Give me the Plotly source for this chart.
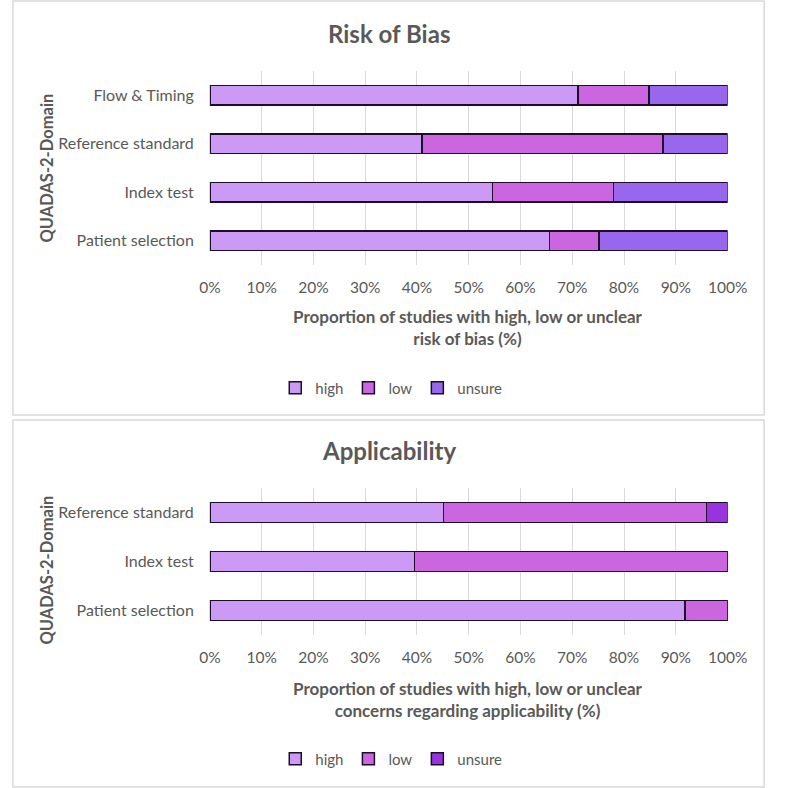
import plotly.graph_objects as go

# ---- data ----
rob_domains = ["Patient selection", "Index test", "Reference standard", "Flow & Timing"]
rob_high = [65.6, 54.6, 41.0, 71.1]
rob_low = [9.6, 23.4, 46.5, 13.7]
rob_unsure = [24.8, 22.0, 12.5, 15.2]

app_domains = ["Patient selection", "Index test", "Reference standard"]
app_high = [91.8, 39.5, 45.1]
app_low = [8.2, 60.5, 50.8]
app_unsure = [0.0, 0.0, 4.1]

series_names = ["high", "low", "unsure"]
x_ticks = [0, 10, 20, 30, 40, 50, 60, 70, 80, 90, 100]
x_tick_labels = [f"{v}%" for v in x_ticks]

# ---- styles ----
FONT = "Lato, 'Open Sans', sans-serif"
GRAY = "#595959"
C_HIGH = "#CC99F5"
C_LOW = "#CC66E0"
C_UNS_TOP = "#9966EE"
C_UNS_BOT = "#9933DD"
EDGE = "#1a0f26"

fig = go.Figure()

top_colors = [C_HIGH, C_LOW, C_UNS_TOP]
for name, vals, col in zip(series_names, [rob_high, rob_low, rob_unsure], top_colors):
    fig.add_trace(go.Bar(
        y=rob_domains, x=vals, name=name, orientation="h",
        marker=dict(color=col, line=dict(color=EDGE, width=1.5)),
        xaxis="x", yaxis="y", legend="legend", hoverinfo="x+y+name",
    ))

bot_colors = [C_HIGH, C_LOW, C_UNS_BOT]
for name, vals, col in zip(series_names, [app_high, app_low, app_unsure], bot_colors):
    fig.add_trace(go.Bar(
        y=app_domains, x=vals, name=name, orientation="h",
        marker=dict(color=col, line=dict(color=EDGE, width=1.5)),
        xaxis="x2", yaxis="y2", legend="legend2", hoverinfo="x+y+name",
    ))

W, H = 787, 788
def py(px):
    return 1 - px / H

xdom = [207 / W, 746 / W]
xaxis_common = dict(
    range=[0, 100], tickvals=x_ticks, ticktext=x_tick_labels,
    showgrid=True, gridcolor="#d9d9d9", gridwidth=1, zeroline=False,
    showline=False, ticks="", ticklabelstandoff=11,
    tickfont=dict(family=FONT, size=15.5, color=GRAY), fixedrange=True,
)
yaxis_common = dict(
    showgrid=False, zeroline=False, showline=False, ticks="",
    ticklabelstandoff=15, tickfont=dict(family=FONT, size=16, color=GRAY),
    fixedrange=True,
)
legend_common = dict(
    orientation="h", x=0.503, xanchor="center", yanchor="middle",
    font=dict(family=FONT, size=15, color=GRAY), itemwidth=30,
    traceorder="normal", bgcolor="rgba(0,0,0,0)", tracegroupgap=0,
)

fig.update_layout(
    width=W, height=H,
    margin=dict(l=0, r=0, t=0, b=0),
    paper_bgcolor="white", plot_bgcolor="white",
    barmode="stack", bargap=0.59,
    showlegend=True,
    xaxis=dict(domain=xdom, anchor="y", **xaxis_common),
    yaxis=dict(domain=[py(265), py(71)], anchor="x", **yaxis_common),
    xaxis2=dict(domain=xdom, anchor="y2", **xaxis_common),
    yaxis2=dict(domain=[py(635), py(488)], anchor="x2", **yaxis_common),
    legend=dict(y=py(388), **legend_common),
    legend2=dict(y=py(759), **legend_common),
    shapes=[
        dict(type="rect", xref="paper", yref="paper", x0=2 / W, x1=784 / W, y0=py(415), y1=py(1),
             line=dict(color="#d9d9d9", width=1.5), fillcolor="rgba(0,0,0,0)", layer="below"),
        dict(type="rect", xref="paper", yref="paper", x0=2 / W, x1=784 / W, y0=py(787), y1=py(420),
             line=dict(color="#d9d9d9", width=1.5), fillcolor="rgba(0,0,0,0)", layer="below"),
    ],
    annotations=[
        dict(text="<b>Risk of Bias</b>", x=0.5, y=py(33), xref="paper", yref="paper",
             showarrow=False, font=dict(family=FONT, size=24, color=GRAY), yanchor="middle"),
        dict(text="<b>Applicability</b>", x=0.5, y=py(450), xref="paper", yref="paper",
             showarrow=False, font=dict(family=FONT, size=24, color=GRAY), yanchor="middle"),
        dict(text="<b>QUADAS-2-Domain</b>", x=37 / W, y=py(168), xref="paper", yref="paper",
             showarrow=False, textangle=-90, font=dict(family=FONT, size=16.5, color=GRAY),
             xanchor="center", yanchor="middle"),
        dict(text="<b>QUADAS-2-Domain</b>", x=37 / W, y=py(570), xref="paper", yref="paper",
             showarrow=False, textangle=-90, font=dict(family=FONT, size=16.5, color=GRAY),
             xanchor="center", yanchor="middle"),
        dict(text="<b>Proportion of studies with high, low or unclear<br>risk of bias (%)</b>",
             x=476 / W, y=py(327), xref="paper", yref="paper", showarrow=False,
             font=dict(family=FONT, size=17, color=GRAY), yanchor="middle", align="center"),
        dict(text="<b>Proportion of studies with high, low or unclear<br>concerns regarding applicability (%)</b>",
             x=476 / W, y=py(699), xref="paper", yref="paper", showarrow=False,
             font=dict(family=FONT, size=17, color=GRAY), yanchor="middle", align="center"),
    ],
)

fig.write_html(
    "out.html",
    config={"responsive": False, "displayModeBar": False},
    post_script="document.body.style.margin='0';document.body.style.overflow='hidden';",
)
